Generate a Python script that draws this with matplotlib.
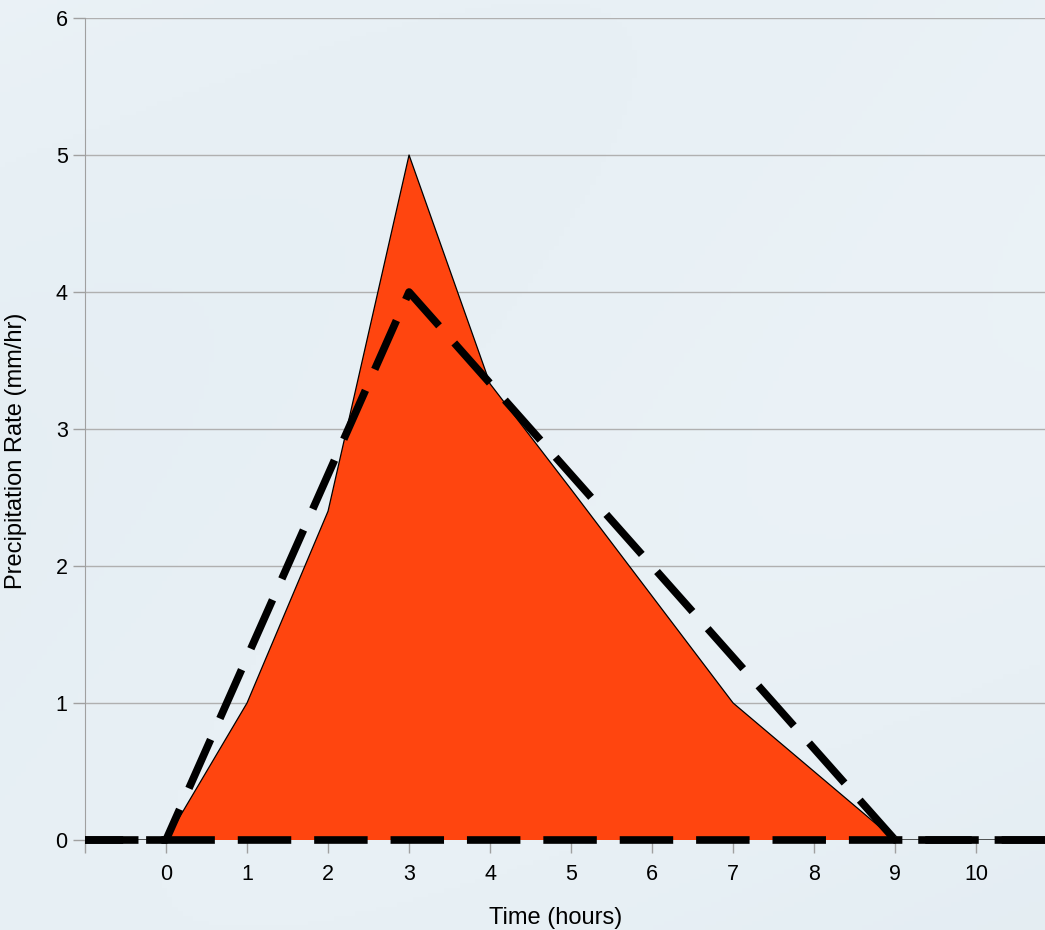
import numpy as np
import matplotlib
matplotlib.use('Agg')
import matplotlib.pyplot as plt

plt.rcParams['font.family'] = ['Liberation Sans', 'DejaVu Sans']

# precipitation hyetograph (area) and triangular approximation (dashed)
hours = [-1, 0, 1, 2, 3, 4, 5, 6, 7, 8, 9, 10, 11]
rain = [0, 0, 1, 2.4, 5, 3.33, 2.56, 1.78, 1, 0.5, 0, 0, 0]
tri_x = [-1, 0, 3, 9, 10.85]
tri_y = [0, 0, 4, 0, 0]
base_x = [-1, 10.85]
base_y = [0, 0]
xticks = list(range(0, 11))
yticks = list(range(0, 7))

fig = plt.figure(figsize=(10.45, 9.3), dpi=100)

# light watery background
bg = fig.add_axes([0, 0, 1, 1], zorder=-5)
gy, gx = np.mgrid[0:1:200j, 0:1:200j]
shade = 0.6 + 0.2 * gy + 0.1 * np.sin(gx * 3.0 + gy * 4.0)
cmap = matplotlib.colors.LinearSegmentedColormap.from_list('w', ['#eff5f9', '#e1ebf1'])
bg.imshow(shade, cmap=cmap, aspect='auto', extent=[0, 1, 0, 1], vmin=0.4, vmax=1.0)
bg.axis('off')

ax = fig.add_axes([85 / 1045, 90 / 930, 960 / 1045, 822 / 930])
ax.patch.set_alpha(0)

ax.fill_between(hours, rain, 0, facecolor='#ff450f', edgecolor='none', zorder=2)
ax.plot(hours, rain, color='black', lw=0.9, zorder=3)
ax.plot(base_x, base_y, color='black', lw=5.5, linestyle=(0, (7, 3)),
        dash_capstyle='butt', zorder=4, clip_on=False)
ax.plot(tri_x, tri_y, color='black', lw=5.5, linestyle=(2, (7, 3)),
        dash_capstyle='butt', zorder=4, clip_on=False)

ax.set_xlim(-1, 10.85)
ax.set_ylim(0, 6)
ax.set_yticks(yticks)
ax.set_xticks([-1] + xticks)
ax.set_xticklabels([''] + [str(t) for t in xticks])
ax.yaxis.grid(True, color='#b0b0b0', lw=1)
ax.set_axisbelow(True)
for s in ['top', 'right', 'bottom']:
    ax.spines[s].set_visible(False)
ax.spines['left'].set_color('#a0a0a0')
ax.tick_params(axis='both', colors='#a0a0a0', labelcolor='black', labelsize=15.5, length=9, width=1)
ax.tick_params(axis='x', pad=8)

ax.set_xlabel('Time (hours)', fontsize=17)
ax.set_ylabel('Precipitation Rate (mm/hr)', fontsize=17)
ax.xaxis.set_label_coords(0.49, -0.082)
ax.yaxis.set_label_coords(-0.06, 0.474)

fig.savefig('out.png', dpi=100)
